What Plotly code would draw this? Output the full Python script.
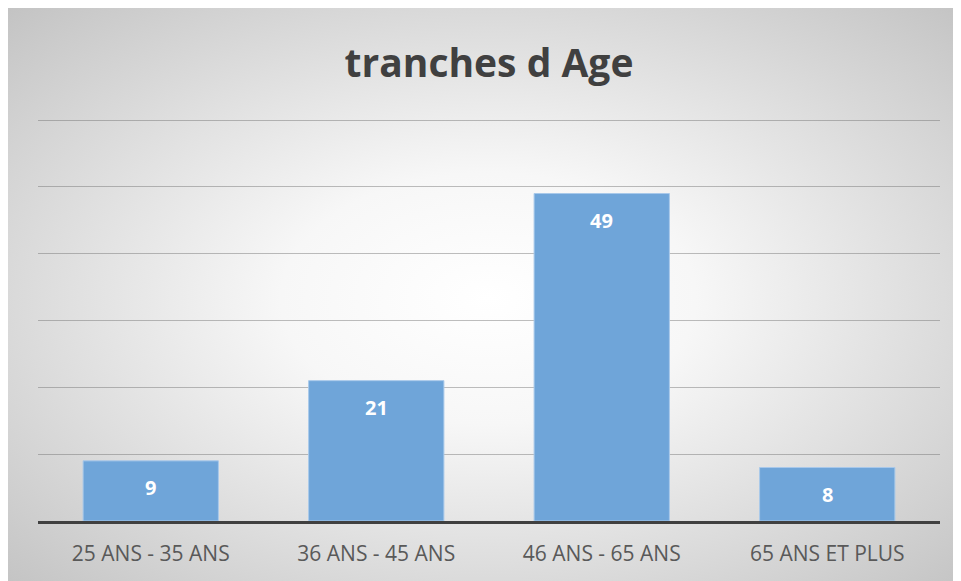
import plotly.graph_objects as go

categories = ["25 ANS - 35 ANS", "36 ANS - 45 ANS", "46 ANS - 65 ANS", "65 ANS ET PLUS"]
counts = [9, 21, 49, 8]
title_text = "tranches d Age"

# radial grey gradient like the Excel chart area (covers whole paper)
bg_svg = (
    "data:image/svg+xml;utf8,"
    "<svg xmlns='http://www.w3.org/2000/svg' width='961' height='581' preserveAspectRatio='none'>"
    "<defs><radialGradient id='g' cx='50%' cy='50%' r='72%'>"
    "<stop offset='0%' stop-color='%23ffffff'/>"
    "<stop offset='30%' stop-color='%23f7f7f7'/>"
    "<stop offset='100%' stop-color='%23c2c2c2'/>"
    "</radialGradient></defs>"
    "<rect width='961' height='581' fill='url(%23g)'/></svg>"
)

L, R, T, B = 30, 29, 110, 68
pw, ph = 961 - L - R, 581 - T - B

fig = go.Figure(
    go.Bar(
        x=categories,
        y=counts,
        width=0.6,
        marker=dict(color="#6fa5d9", line=dict(color="#a8c9ea", width=1)),
    )
)

# data labels near the top inside each bar
for c, v in zip(categories, counts):
    fig.add_annotation(
        x=c, y=v, text=str(v), showarrow=False, yshift=-27, yanchor="middle",
        font=dict(family="Open Sans", size=20, color="white", weight="bold"),
    )

fig.update_layout(
    width=961,
    height=581,
    margin=dict(l=L, r=R, t=T, b=B),
    paper_bgcolor="#d0d0d0",
    plot_bgcolor="rgba(0,0,0,0)",
    showlegend=False,
    title=dict(
        text=title_text,
        x=(489 - 8) / 961,
        xanchor="center",
        y=1 - 55 / 581,
        yanchor="middle",
        yref="container",
        font=dict(family="Open Sans", size=39, color="#404040", weight="bold"),
    ),
    images=[
        dict(
            source=bg_svg,
            xref="paper",
            yref="paper",
            x=-L / pw,
            y=(ph + T) / ph,
            sizex=961 / pw,
            sizey=581 / ph,
            xanchor="left",
            yanchor="top",
            sizing="stretch",
            layer="below",
        )
    ],
)

fig.update_yaxes(
    range=[0, 60.3],
    dtick=10,
    showticklabels=False,
    showgrid=True,
    gridcolor="rgba(110,110,110,0.45)",
    gridwidth=1,
    zeroline=False,
)
fig.update_xaxes(
    showline=True,
    linecolor="#404040",
    linewidth=3,
    ticks="",
    ticklabelstandoff=12,
    tickfont=dict(family="Open Sans", size=21, color="#595959"),
)

fig.write_html("out.html")
